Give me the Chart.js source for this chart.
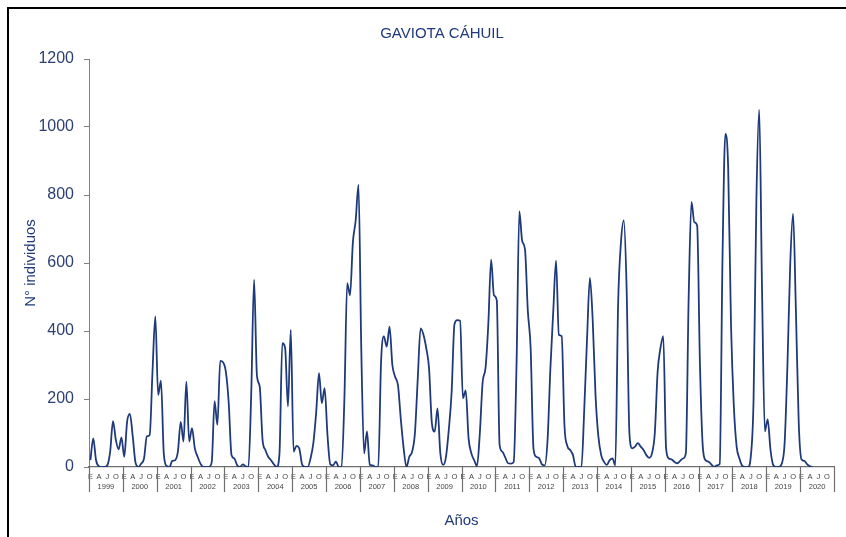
<!DOCTYPE html>
<html>
<head>
<meta charset="utf-8">
<script src="https://cdn.jsdelivr.net/npm/chart.js@4.4.1/dist/chart.umd.min.js"></script>
<style>
  html, body { margin: 0; padding: 0; background: #ffffff; overflow: hidden; }
  #frame { position: absolute; left: 7px; top: 7px; width: 1000px; height: 1000px;
           border-left: 2px solid #000; border-top: 2px solid #000; }
  #c { position: absolute; left: 0; top: 0; }
</style>
</head>
<body>
<div id="frame"></div>
<canvas id="c" width="846" height="537"></canvas>
<script>
// ---- data ----
const YEARS = [1999,2000,2001,2002,2003,2004,2005,2006,2007,2008,2009,2010,2011,2012,2013,2014,2015,2016,2017,2018,2019,2020];
const MONTHS = ['E','F','M','A','M','J','J','A','S','O','N','D'];
const MONTH_TICKS = {0:'E', 3:'A', 6:'J', 9:'O'};

const V1999 = [20, 84, 20, 2, 0, 0, 5, 45, 135, 80, 52, 87];
const V2000 = [30, 133, 156, 90, 12, 0, 10, 25, 90, 94, 280, 443];
const V2001 = [212, 254, 40, 3, 0, 18, 20, 45, 133, 75, 251, 75];
const V2002 = [114, 55, 30, 10, 0, 0, 0, 15, 194, 124, 312, 308];
const V2003 = [280, 190, 35, 25, 5, 0, 8, 2, 0, 220, 551, 271];
const V2004 = [236, 80, 50, 30, 20, 8, 0, 40, 364, 350, 178, 403];
const V2005 = [45, 62, 55, 8, 0, 0, 25, 70, 160, 276, 188, 232];
const V2006 = [95, 8, 5, 16, 0, 0, 200, 541, 505, 660, 725, 830];
const V2007 = [340, 40, 105, 6, 5, 0, 0, 310, 384, 354, 413, 300];
const V2008 = [265, 240, 140, 55, 0, 30, 45, 100, 260, 408, 390, 350];
const V2009 = [290, 129, 104, 172, 40, 6, 30, 110, 220, 420, 432, 430];
const V2010 = [202, 225, 85, 40, 20, 3, 100, 250, 290, 420, 610, 505];
const V2011 = [490, 65, 45, 28, 11, 10, 15, 300, 752, 665, 640, 460];
const V2012 = [350, 55, 30, 26, 8, 5, 80, 290, 455, 607, 389, 385];
const V2013 = [120, 62, 50, 35, 0, 0, 0, 170, 380, 556, 430, 210];
const V2014 = [90, 35, 15, 6, 20, 25, 5, 480, 660, 725, 530, 100];
const V2015 = [55, 60, 70, 60, 50, 35, 27, 40, 100, 280, 350, 385];
const V2016 = [55, 25, 22, 15, 11, 18, 25, 40, 500, 780, 720, 710];
const V2017 = [300, 60, 20, 16, 8, 0, 5, 9, 620, 980, 880, 420];
const V2018 = [180, 60, 25, 3, 0, 0, 30, 200, 786, 1050, 520, 105];
const V2019 = [140, 50, 5, 0, 0, 10, 70, 300, 600, 745, 460, 130];
const V2020 = [22, 18, 8, 2, 0, null, null, null, null, null, null, null];

const Y_TICKS = [0, 200, 400, 600, 800, 1000, 1200];

const YEAR_VALUES = [V1999,V2000,V2001,V2002,V2003,V2004,V2005,V2006,V2007,V2008,V2009,V2010,
                     V2011,V2012,V2013,V2014,V2015,V2016,V2017,V2018,V2019,V2020];
const labels = [];
YEARS.forEach(y => MONTHS.forEach((m, i) => labels.push(m + '-' + (i + 1) + '-' + y)));
const values = [].concat(...YEAR_VALUES);

// ---- styles ----
const NAVY = '#1f3a7a';
const FONT = "'Liberation Sans', Arial, sans-serif";
Chart.defaults.font.family = FONT;

const yearDividers = {
  id: 'yearDividers',
  afterDraw(chart) {
    const x = chart.scales.x, x2 = chart.scales.x2;
    const ctx = chart.ctx;
    ctx.save();
    ctx.strokeStyle = '#6f6f6f';
    ctx.lineWidth = 1.2;
    const n = YEARS.length;
    for (let k = 0; k <= n; k++) {
      const px = Math.round(x.left + (x.right - x.left) * k / n) + 0.5;
      ctx.beginPath();
      ctx.moveTo(px, x.top);
      ctx.lineTo(px, x2.top + 11);
      ctx.stroke();
    }
    ctx.restore();
  }
};

const shiftTitle = {
  id: 'shiftTitle',
  afterLayout(chart) {
    if (chart.titleBlock) { chart.titleBlock.left = 0; chart.titleBlock.right = 884; }
  }
};

new Chart(document.getElementById('c'), {
  type: 'line',
  data: {
    labels: labels,
    datasets: [{
      data: values,
      borderColor: NAVY,
      borderWidth: 1.8,
      pointRadius: 0,
      fill: false,
      cubicInterpolationMode: 'monotone',
      spanGaps: false
    }]
  },
  options: {
    responsive: false,
    animation: false,
    events: [],
    layout: { padding: { left: 0, right: 12, top: 0, bottom: 0 } },
    plugins: {
      legend: { display: false },
      tooltip: { enabled: false },
      title: {
        display: true,
        text: 'GAVIOTA CÁHUIL',
        color: NAVY,
        font: { size: 15, weight: 'normal', family: FONT },
        padding: { top: 25, bottom: 16 }
      }
    },
    scales: {
      y: {
        min: 0, max: 1200,
        afterBuildTicks: s => { s.ticks = Y_TICKS.map(v => ({ value: v })); },
        afterFit: s => { s.width = 89; },
        grid: { drawOnChartArea: false, tickLength: 5, color: '#808080' },
        border: { display: true, color: '#808080', width: 1 },
        ticks: { padding: 10, color: '#2b3f73', font: { size: 16, family: FONT },
                 callback: v => String(v) },
        title: {
          display: true, text: 'N° individuos', color: NAVY,
          font: { size: 15, family: FONT }, padding: { top: 22, bottom: 0 }
        }
      },
      x: {
        type: 'category',
        offset: true,
        weight: 0,
        afterFit: s => { s.height = 14; },
        grid: { display: false, drawTicks: false },
        border: { display: true, color: '#6f6f6f', width: 1.2 },
        ticks: {
          autoSkip: false, maxRotation: 0, minRotation: 0, padding: 5,
          color: '#444', font: { size: 7.5, family: FONT },
          callback: (v, i) => (MONTH_TICKS[i % 12] !== undefined ? MONTH_TICKS[i % 12] : '')
        }
      },
      x2: {
        type: 'category',
        labels: YEARS.map(String),
        position: 'bottom',
        offset: true,
        weight: 1,
        afterFit: s => { s.height = 56; },
        grid: { display: false, drawTicks: false },
        border: { display: false },
        ticks: { autoSkip: false, maxRotation: 0, minRotation: 0, padding: 1,
                 color: '#444', font: { size: 7.5, family: FONT } },
        title: {
          display: true, text: 'Años', color: NAVY,
          font: { size: 15, family: FONT }, padding: { top: 0, bottom: 7 }
        }
      }
    }
  },
  plugins: [yearDividers, shiftTitle]
});
</script>
</body>
</html>
